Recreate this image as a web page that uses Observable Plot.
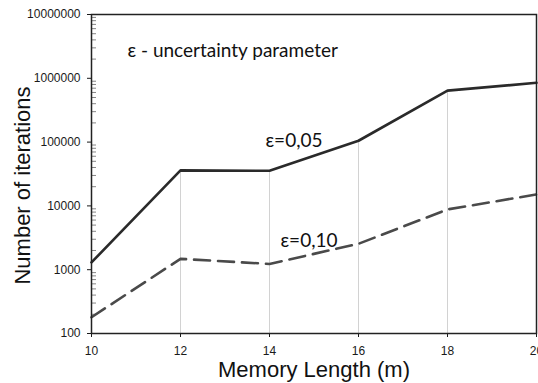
<!DOCTYPE html>
<html><head><meta charset="utf-8">
<script src="https://cdn.jsdelivr.net/npm/d3@7"></script>
<script src="https://cdn.jsdelivr.net/npm/@observablehq/plot@0.6"></script>
<style>html,body{margin:0;padding:0;background:#fff} svg{display:block}</style>
</head><body><div id="chart"></div>
<script>
// Data
const memoryLength = [10, 12, 14, 16, 18, 20];
const iterEps005 = [1300, 36000, 35500, 105000, 640000, 850000];
const iterEps010 = [180, 1480, 1230, 2550, 8800, 15100];
const yTicks = [100, 1000, 10000, 100000, 1000000, 10000000];
const xTicks = [10, 12, 14, 16, 18, 20];
const titleText = ["ε - uncertainty parameter"];
const label005 = ["ε=0,05"];
const label010 = ["ε=0,10"];
const xLabel = ["Memory Length (m)"];
const yLabel = ["Number of iterations"];

const rows = memoryLength.map((m, i) => ({m, a: iterEps005[i], b: iterEps010[i]}));
const minorTicks = [];
for (let k = 0; k < yTicks.length - 1; k++) for (let j = 2; j <= 9; j++) minorTicks.push(yTicks[k] * j);

const W = 538, H = 383, mL = 91, mR = 2, mT = 14, mB = 50;
const calibriLike = "Lato, 'Open Sans', sans-serif";
const arialLike = "'Liberation Sans', Arial, sans-serif";

const chart = Plot.plot({
  width: W, height: H,
  marginLeft: mL, marginRight: mR, marginTop: mT, marginBottom: mB,
  style: {fontFamily: arialLike, fontSize: "12px", color: "#1a1a1a", background: "#fff"},
  x: {domain: [memoryLength[0], memoryLength[memoryLength.length - 1]]},
  y: {type: "log", domain: [yTicks[0], yTicks[yTicks.length - 1]]},
  marks: [
    Plot.ruleX(rows.filter((d, i) => i > 0 && i < rows.length - 1), {x: "m", y1: () => yTicks[0], y2: "a", stroke: "#d2d2d2", strokeWidth: 1}),
    Plot.tickY(minorTicks, {y: d => d, insetRight: W - mL - mR - 5, stroke: "#666", strokeWidth: 0.8}),
    Plot.axisY(yTicks, {anchor: "left", tickSize: 4, tickPadding: 7, tickFormat: d => String(d), label: null, fontSize: 12}),
    Plot.axisX(xTicks, {anchor: "bottom", tickSize: 4, tickPadding: 9, tickFormat: d => String(d), label: null, fontSize: 12}),
    Plot.line(rows, {x: "m", y: "b", stroke: "#4a4a4a", strokeWidth: 2.6, strokeDasharray: "16,8"}),
    Plot.line(rows, {x: "m", y: "a", stroke: "#2a2a2a", strokeWidth: 2.6}),
    Plot.frame({stroke: "#222", strokeWidth: 1.5}),
    Plot.text(titleText, {text: d => d, frameAnchor: "top-left", dx: 36, dy: 42, lineAnchor: "bottom", textAnchor: "start", fontFamily: calibriLike, fontSize: 19, fill: "#111"}),
    Plot.text(label005, {text: d => d, frameAnchor: "top-left", dx: 174, dy: 132, lineAnchor: "bottom", textAnchor: "start", fontFamily: calibriLike, fontSize: 19, fill: "#111"}),
    Plot.text(label010, {text: d => d, frameAnchor: "top-left", dx: 189, dy: 232, lineAnchor: "bottom", textAnchor: "start", fontFamily: calibriLike, fontSize: 19, fill: "#111"}),
    Plot.text(xLabel, {text: d => d, frameAnchor: "bottom", dy: 43, lineAnchor: "bottom", fontFamily: arialLike, fontSize: 22, fill: "#111"}),
    Plot.text(yLabel, {text: d => d, frameAnchor: "left", dx: -62, dy: 11.5, rotate: -90, lineAnchor: "bottom", textAnchor: "middle", fontFamily: arialLike, fontSize: 22, fill: "#111"})
  ]
});
document.getElementById("chart").appendChild(chart);
</script>
</body></html>
